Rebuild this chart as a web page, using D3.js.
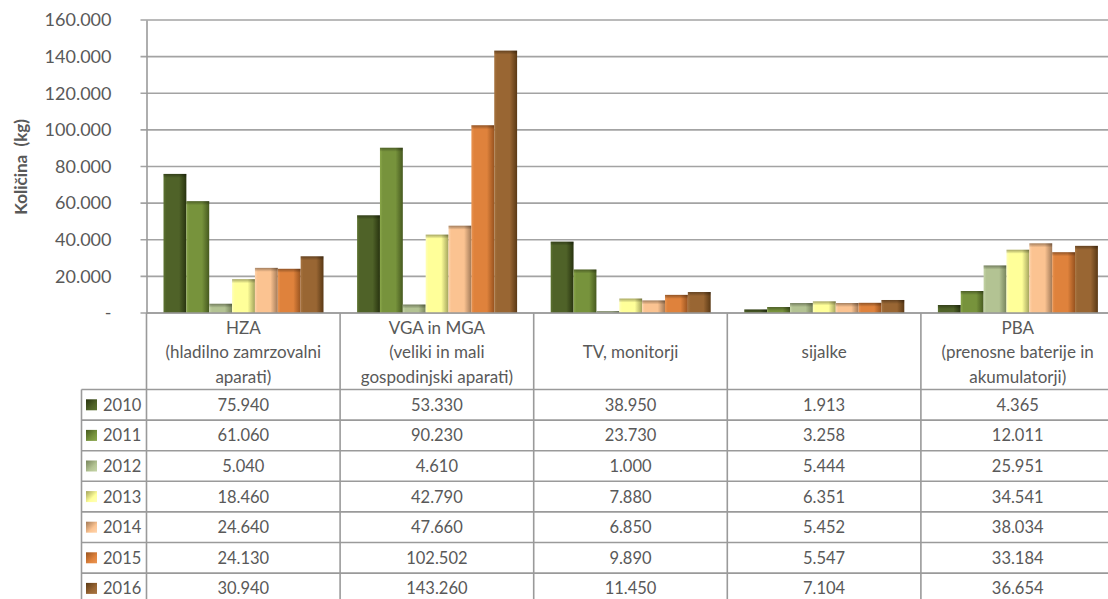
<!DOCTYPE html>
<html><head><meta charset="utf-8">
<script src="https://cdn.jsdelivr.net/npm/d3@7"></script>
<style>html,body{margin:0;padding:0;background:#fff;overflow:hidden}svg{display:block}</style>
</head><body><svg id="c" width="1108" height="599"></svg>
<script>
const categories = ["HZA", "VGA in MGA", "TV, monitorji", "sijalke", "PBA"];
const categoryLabels = [
  ["HZA", "(hladilno zamrzovalni", "aparati)"],
  ["VGA in MGA", "(veliki in mali", "gospodinjski aparati)"],
  ["TV, monitorji"],
  ["sijalke"],
  ["PBA", "(prenosne baterije in", "akumulatorji)"]
];
const years = ["2010", "2011", "2012", "2013", "2014", "2015", "2016"];
const v2010 = [75940, 53330, 38950, 1913, 4365];
const v2011 = [61060, 90230, 23730, 3258, 12011];
const v2012 = [5040, 4610, 1000, 5444, 25951];
const v2013 = [18460, 42790, 7880, 6351, 34541];
const v2014 = [24640, 47660, 6850, 5452, 38034];
const v2015 = [24130, 102502, 9890, 5547, 33184];
const v2016 = [30940, 143260, 11450, 7104, 36654];
const seriesValues = [v2010, v2011, v2012, v2013, v2014, v2015, v2016];
const yTicks = [0, 20000, 40000, 60000, 80000, 100000, 120000, 140000, 160000];
const yTitle = "Količina  (kg)";

const colors = [
  {light:"#5c7330", base:"#4f6228", dark:"#28330f"},
  {light:"#8aa74a", base:"#77933c", dark:"#46591f"},
  {light:"#c4d4a6", base:"#b3c393", dark:"#77845c"},
  {light:"#ffffb8", base:"#ffff99", dark:"#a3a35c"},
  {light:"#ffd4ac", base:"#fbc391", dark:"#a27a58"},
  {light:"#ea9552", base:"#df823c", dark:"#98531f"},
  {light:"#a77440", base:"#996633", dark:"#5a3915"}
];

const svg = d3.select("#c");
const font = "Lato, 'Open Sans', sans-serif";
const textCol = "#595959";
const lineCol = "#9a9a9a";

const plotLeft = 146.5, plotTop = 20, plotBottom = 313;
const catW = 193.6;
const x = d3.scaleBand().domain(categories).range([plotLeft, plotLeft + catW * categories.length]).padding(0);
const xi = d3.scaleBand().domain(years).range([17, 177]).padding(0);
const y = d3.scaleLinear().domain([0, 160000]).range([plotBottom, plotTop]);
const loc = d3.formatLocale({decimal: ",", thousands: ".", grouping: [3], currency: ["", ""]});
const fmt = loc.format(",d");
const tickFmt = v => v === 0 ? "-" : fmt(v);

// gradients
const defs = svg.append("defs");
colors.forEach((c, i) => {
  const g = defs.append("linearGradient").attr("id", "g" + i).attr("x1", "0").attr("x2", "1").attr("y1", "0").attr("y2", "0");
  g.append("stop").attr("offset", "0").attr("stop-color", c.light);
  g.append("stop").attr("offset", "0.12").attr("stop-color", c.base);
  g.append("stop").attr("offset", "0.68").attr("stop-color", c.base);
  g.append("stop").attr("offset", "1").attr("stop-color", c.dark);
  const k = defs.append("linearGradient").attr("id", "k" + i).attr("x1", "0").attr("x2", "1").attr("y1", "0").attr("y2", "1");
  k.append("stop").attr("offset", "0").attr("stop-color", c.dark);
  k.append("stop").attr("offset", "0.6").attr("stop-color", c.base);
  k.append("stop").attr("offset", "1").attr("stop-color", c.light);
});
const tg = defs.append("linearGradient").attr("id", "topg").attr("x1", "0").attr("x2", "0").attr("y1", "0").attr("y2", "1");
tg.append("stop").attr("offset", "0").attr("stop-color", "#000").attr("stop-opacity", 0.35);
tg.append("stop").attr("offset", "1").attr("stop-color", "#000").attr("stop-opacity", 0);

// gridlines
svg.append("g").selectAll("line").data(yTicks).join("line")
  .attr("x1", plotLeft - 6).attr("x2", 1108)
  .attr("y1", d => y(d)).attr("y2", d => y(d))
  .attr("stroke", "#a3a3a3").attr("stroke-width", 1.6);

// y axis via d3 axis
const yAxis = d3.axisLeft(y).tickValues(yTicks).tickFormat(tickFmt).tickSize(0).tickPadding(35);
const ya = svg.append("g").attr("transform", `translate(${plotLeft},0)`).call(yAxis);
ya.select(".domain").attr("stroke", lineCol).attr("stroke-width", 1.6);
ya.selectAll("text").attr("font-family", font).attr("font-size", 18).attr("fill", textCol);

// y title
svg.append("text").attr("transform", "translate(27,167) rotate(-90)")
  .attr("text-anchor", "middle").attr("font-family", font).attr("font-weight", "bold")
  .attr("font-size", 17).attr("fill", textCol).attr("xml:space", "preserve").text(yTitle);

// bars
const groups = svg.append("g").selectAll("g").data(categories).join("g")
  .attr("transform", d => `translate(${x(d)},0)`);
groups.each(function(cat, ci) {
  const g = d3.select(this);
  years.forEach((yr, si) => {
    const v = seriesValues[si][ci];
    g.append("rect").attr("x", xi(yr)).attr("width", xi.bandwidth())
      .attr("y", y(v)).attr("height", y(0) - y(v)).attr("fill", `url(#g${si})`);
    const th = Math.min(4, y(0) - y(v));
    g.append("rect").attr("x", xi(yr)).attr("width", xi.bandwidth())
      .attr("y", y(v)).attr("height", th).attr("fill", "url(#topg)");
  });
});

// table
const headerTop = plotBottom, headerBottom = 389.5, rowH = 30.6;
const legendLeft = 81.5;
const tableRight = plotLeft + catW * categories.length;
const tl = svg.append("g").attr("stroke", lineCol).attr("stroke-width", 1.6);
categories.forEach((c, i) => {
  tl.append("line").attr("x1", x(c)).attr("x2", x(c)).attr("y1", headerTop).attr("y2", 599);
});
tl.append("line").attr("x1", tableRight).attr("x2", tableRight).attr("y1", headerTop).attr("y2", 599);
tl.append("line").attr("x1", plotLeft).attr("x2", tableRight).attr("y1", headerTop).attr("y2", headerTop);
tl.append("line").attr("x1", legendLeft).attr("x2", legendLeft).attr("y1", headerBottom).attr("y2", 599);
for (let r = 0; r <= years.length; r++) {
  const yy = headerBottom + r * rowH;
  tl.append("line").attr("x1", legendLeft).attr("x2", tableRight).attr("y1", yy).attr("y2", yy);
}

// header labels
categoryLabels.forEach((lines, ci) => {
  const cx = x(categories[ci]) + catW / 2;
  const n = lines.length;
  const mid = (headerTop + headerBottom) / 2 + 1;
  lines.forEach((t, li) => {
    svg.append("text").attr("x", cx).attr("y", mid + (li - (n - 1) / 2) * 24.5)
      .attr("dy", "0.35em").attr("text-anchor", "middle")
      .attr("font-family", font).attr("font-size", 17).attr("fill", textCol).text(t);
  });
});

// rows
years.forEach((yr, si) => {
  const cy = headerBottom + si * rowH + rowH / 2;
  svg.append("rect").attr("x", 86).attr("y", cy - 5.5).attr("width", 11).attr("height", 11).attr("fill", `url(#k${si})`);
  svg.append("text").attr("x", 103).attr("y", cy).attr("dy", "0.36em")
    .attr("font-family", font).attr("font-size", 16.5).attr("fill", textCol).text(yr);
  categories.forEach((c, ci) => {
    svg.append("text").attr("x", x(c) + catW / 2).attr("y", cy).attr("dy", "0.36em")
      .attr("text-anchor", "middle").attr("font-family", font).attr("font-size", 16.5)
      .attr("fill", textCol).text(fmt(seriesValues[si][ci]));
  });
});
</script></body></html>
